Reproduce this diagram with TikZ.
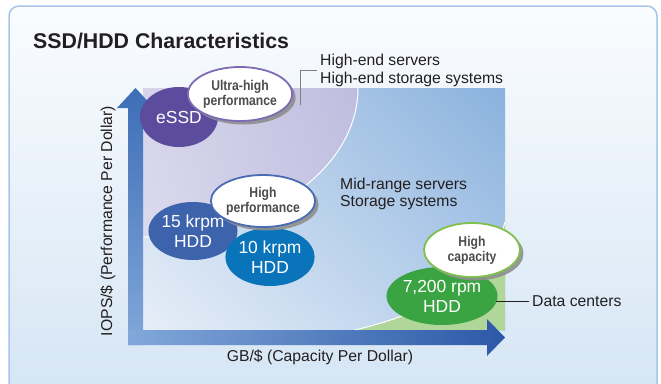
\documentclass[tikz,border=0pt]{standalone}
\usepackage{fontspec}
\setmainfont{Liberation Sans}
\newfontfamily\condfont[FakeStretch=0.86]{Liberation Sans}
\usetikzlibrary{shapes.geometric, shadows, shadings}

\definecolor{panelrim}{HTML}{A6C4E8}
\definecolor{panelhi}{HTML}{FAFCFE}
\definecolor{panello}{HTML}{D3E4F4}
\definecolor{labeltext}{HTML}{231F20}
\definecolor{bubbletext}{HTML}{4D4D4D}
\definecolor{shadowgrey}{HTML}{8E8E8E}
\definecolor{arrowlight}{HTML}{82A8DA}
\definecolor{arrowdark}{HTML}{2C58A7}
\definecolor{arrowtop}{HTML}{3D6DB6}
\definecolor{greenarea}{HTML}{B0D699}
\definecolor{essdfill}{HTML}{5B4C9E}
\definecolor{kfifteen}{HTML}{3D63AD}
\definecolor{kten}{HTML}{0A74BB}
\definecolor{rpmgreen}{HTML}{3BA442}
\definecolor{rimpurple}{HTML}{7D6CB4}
\definecolor{rimblue}{HTML}{4A6CB3}
\definecolor{rimgreen}{HTML}{80C04E}
\definecolor{midll}{HTML}{E6EEF8}
\definecolor{midur}{HTML}{8AB2DD}
\definecolor{midul}{HTML}{C6D8EE}
\definecolor{midlr}{HTML}{B2CCEA}
\definecolor{lavll}{HTML}{F0F0F8}
\definecolor{lavur}{HTML}{BAB7DB}
\definecolor{lavul}{HTML}{EAE9F5}
\definecolor{lavlr}{HTML}{C4C3E2}

\begin{document}
\begin{tikzpicture}[x=1bp, y=-1bp,
    disk/.style={ellipse, inner sep=0pt, text=white, align=center,
      font=\fontsize{17.5}{20}\selectfont},
    bubble/.style={ellipse, draw=#1, line width=1.8bp, fill=white, inner sep=0pt,
      align=center, text=bubbletext, font=\condfont\bfseries\fontsize{14.2}{15}\selectfont,
      drop shadow={shadow xshift=3.5bp, shadow yshift=-3.5bp, fill=shadowgrey, opacity=0.9}},
    lbl/.style={font=\fontsize{15.8}{17.5}\selectfont, text=labeltext, align=left, inner sep=0pt}]
  \useasboundingbox (0,0) rectangle (661,383);

  % Panel
  \path[draw=panelrim, line width=1.5bp, rounded corners=10bp, top color=panelhi, bottom color=panello]
    (9,6) rectangle (657,420);
  \node[anchor=base west, inner sep=0pt, text=labeltext, font=\fontsize{21.4}{24}\selectfont\bfseries]
    (title) at (33,48) {SSD/HDD Characteristics};

  % Plot areas
  \shade[lower left=midll, upper right=midur, upper left=midul, lower right=midlr]
    (143,88) rectangle (505,330);
  \begin{scope}
    \clip (143,88) rectangle (505,330);
    \shade[lower left=lavll, upper right=lavur, upper left=lavul, lower right=lavlr]
      (143,88) ellipse [x radius=215, y radius=149];
    \draw[white, line width=1bp] (143,88) ellipse [x radius=215, y radius=149];
  \end{scope}
  \fill[greenarea] (355,330) .. controls (430,312) and (490,280) .. (505,222) -- (505,330) -- cycle;
  \draw[white, line width=1bp] (355,330) .. controls (430,312) and (490,280) .. (505,222);

  % Axes
  \shade[bottom color=arrowlight, top color=arrowtop]
    (128,345) -- (128,108) -- (117,108) -- (135.5,88) -- (154,108) -- (143,108) -- (143,345) -- cycle;
  \shade[left color=arrowlight, right color=arrowdark]
    (128,330) -- (487,330) -- (487,319) -- (505,337.5) -- (487,356) -- (487,345) -- (128,345) -- cycle;
  \node[lbl] (xlabel) at (320,357) {GB/\$ (Capacity Per Dollar)};
  \node[lbl, rotate=90] (ylabel) at (108,221) {IOPS/\$ (Performance Per Dollar)};

  % Drives
  \node[disk, fill=essdfill, minimum width=78bp, minimum height=60bp] (essd) at (179,117) {eSSD};
  \node[bubble=rimpurple, minimum width=94bp, minimum height=54bp] (ultra) at (240,94) {Ultra-high\\performance};
  \node[disk, fill=kfifteen, minimum width=82bp, minimum height=58bp] (krpm15) at (193,231) {15 krpm\\HDD};
  \node[disk, fill=kten, minimum width=84bp, minimum height=58bp] (krpm10) at (270,257) {10 krpm\\HDD};
  \node[bubble=rimblue, minimum width=92bp, minimum height=52bp] (hiperf) at (263,201) {High\\performance};
  \node[disk, fill=rpmgreen, minimum width=84bp, minimum height=58bp] (rpm7200) at (442,296) {7,200 rpm\\HDD};
  \node[bubble=rimgreen, minimum width=96bp, minimum height=54bp] (hicap) at (472,250) {High\\capacity};

  % Segments
  \node[lbl, anchor=west] (hiend) at (320,70.5) {High-end servers\\High-end storage systems};
  \coordinate (hebot) at (300,105);
  \draw[gray, line width=0.8bp] (hebot) |- ([xshift=-3bp]hiend.west);
  \node[lbl, anchor=west] (midrange) at (340,194) {Mid-range servers\\Storage systems};
  \node[lbl, anchor=west] (datactr) at (532,301) {Data centers};
  \coordinate (dcend) at (496,301);
  \draw[labeltext, line width=0.8bp] (dcend) -- ([xshift=-3bp]datactr.west);
\end{tikzpicture}
\end{document}
